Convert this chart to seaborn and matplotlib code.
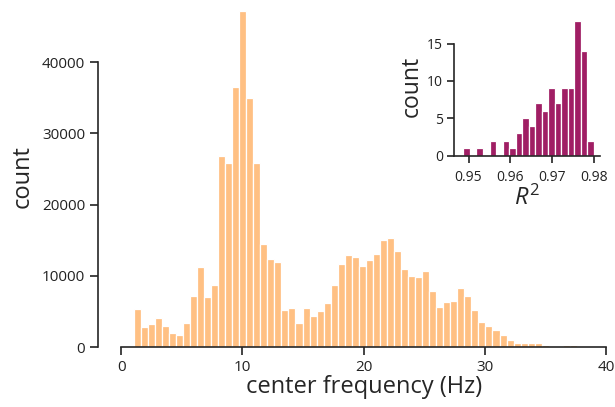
import numpy as np
import pandas as pd
import seaborn as sns
import matplotlib.pyplot as plt

# main histogram: center frequency (Hz)
freq_bin_start = 1.03
freq_bin_width = 0.58
freq_counts = [5300, 2850, 3230, 4110, 2950, 1920, 1730, 3330, 7160, 11190,
               6980, 8660, 26810, 25780, 36450, 47200, 34950, 25870, 14410, 12350,
               11970, 5190, 5430, 3330, 5430, 4350, 5050, 6130, 8700, 11650,
               12870, 12670, 11410, 12210, 13010, 15020, 15260, 13470, 10900, 10010,
               9780, 10620, 7900, 5660, 6320, 6500, 8280, 7160, 5190, 3550,
               2990, 2390, 1680, 940, 560, 560, 520, 520, 280, 0,
               0, 250, 250]
freq_ticks = [0, 10, 20, 30, 40]
count_ticks = [0, 10000, 20000, 30000, 40000]

# inset histogram: R^2 of fits
r2_bin_start = 0.9488
r2_bin_width = 0.001555
r2_counts = [1, 0, 1, 0, 2, 0, 2, 1, 3, 5, 4, 7, 6, 9, 7, 9, 9, 18, 14, 2]
r2_ticks = [0.95, 0.96, 0.97, 0.98]
r2_count_ticks = [0, 5, 10, 15]

sns.set_style("ticks")
plt.rcParams['font.family'] = ['Open Sans', 'DejaVu Sans']
plt.rcParams['mathtext.fontset'] = 'custom'
plt.rcParams['mathtext.it'] = 'Open Sans:italic'
plt.rcParams['mathtext.rm'] = 'Open Sans'
plt.rcParams['axes.linewidth'] = 1.2
plt.rcParams['xtick.major.width'] = 1.2
plt.rcParams['ytick.major.width'] = 1.2
plt.rcParams['xtick.major.size'] = 6
plt.rcParams['ytick.major.size'] = 6

fig = plt.figure(figsize=(6.15, 4.07), dpi=100)

# main panel
ax = fig.add_axes([0.197, 0.1474, 0.789, 0.840])
n_freq = len(freq_counts)
freq_df = pd.DataFrame({'freq': freq_bin_start + freq_bin_width * (np.arange(n_freq) + 0.5),
                        'n': freq_counts})
sns.histplot(data=freq_df, x='freq', weights='n', binwidth=freq_bin_width,
             binrange=(freq_bin_start, freq_bin_start + freq_bin_width * n_freq),
             color='#FFC083', edgecolor='white', linewidth=0.9, alpha=1, ax=ax)
ax.set_xlim(0, 40)
ax.set_ylim(0, 48000)
ax.set_xticks(freq_ticks)
ax.set_yticks(count_ticks)
ax.tick_params(labelsize=11, colors='#222222', pad=3)
ax.set_xlabel('center frequency (Hz)', fontsize=17, labelpad=0)
ax.set_ylabel('count', fontsize=17, labelpad=5)
sns.despine(ax=ax)
ax.spines['left'].set_position(('outward', 17))
ax.spines['left'].set_bounds(0, 40000)
ax.spines['bottom'].set_bounds(0, 40)

# inset panel
axi = fig.add_axes([0.738, 0.6175, 0.238, 0.3396])
n_r2 = len(r2_counts)
r2_df = pd.DataFrame({'r2': r2_bin_start + r2_bin_width * (np.arange(n_r2) + 0.5),
                      'n': r2_counts})
sns.histplot(data=r2_df, x='r2', weights='n', binwidth=r2_bin_width,
             binrange=(r2_bin_start, r2_bin_start + r2_bin_width * n_r2),
             color='#A01E64', edgecolor='white', linewidth=0.9, alpha=1, ax=axi)
axi.set_xlim(0.9465, 0.9815)
axi.set_ylim(0, 18.5)
axi.set_xticks(r2_ticks)
axi.set_xticklabels([f'{t:.2f}' for t in r2_ticks])
axi.set_yticks(r2_count_ticks)
axi.tick_params(labelsize=10, colors='#222222', length=5, pad=3)
axi.tick_params(axis='x', pad=5)
axi.set_xlabel('$R^2$', fontsize=17, labelpad=1)
axi.set_ylabel('count', fontsize=16.5, labelpad=2)
axi.patch.set_alpha(0)
sns.despine(ax=axi)
axi.spines['left'].set_bounds(0, 15)

fig.savefig('out.png', dpi=100)
